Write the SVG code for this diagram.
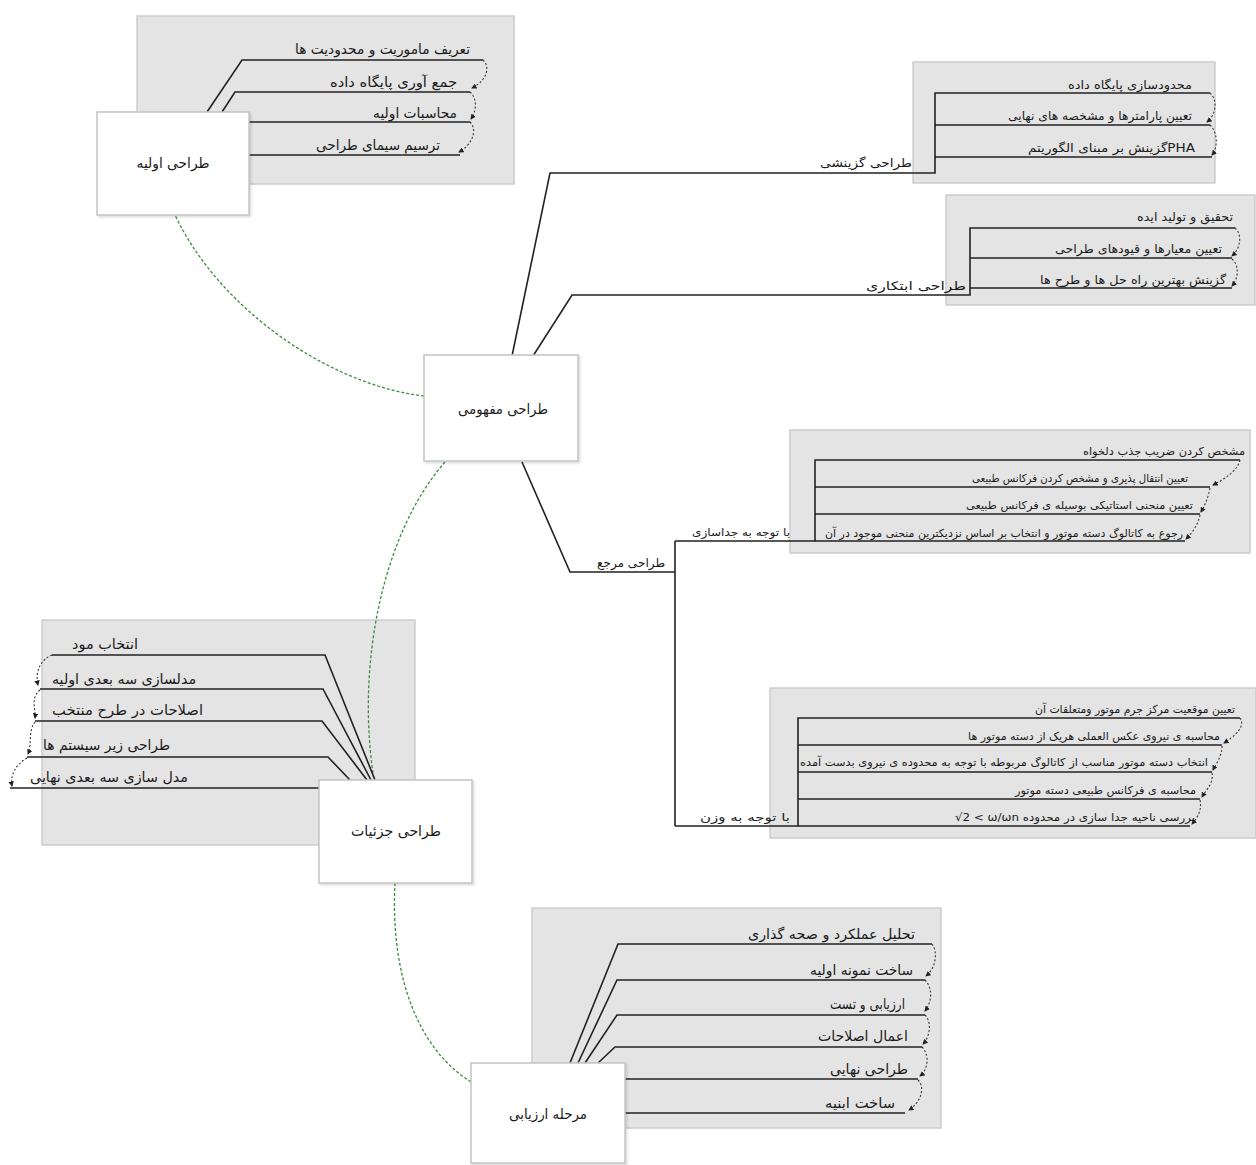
<svg xmlns="http://www.w3.org/2000/svg" width="1256" height="1165" viewBox="0 0 1256 1165">
<defs>
<marker id="ah" viewBox="0 0 6 6" refX="5" refY="3" markerWidth="5" markerHeight="5" orient="auto"><path d="M0,0 L6,3 L0,6 z" fill="#222"/></marker>
<filter id="sh" x="-5%" y="-5%" width="115%" height="115%"><feDropShadow dx="1.5" dy="1.5" stdDeviation="1" flood-color="#000" flood-opacity="0.15"/></filter>
<style>
.bg{fill:#e4e4e4;stroke:#cdcdcd;stroke-width:1.5}
.node{fill:#fff;stroke:#c4c4c4;stroke-width:1.5;filter:url(#sh)}
.ln{fill:none;stroke:#222;stroke-width:1.6}
.dt{fill:none;stroke:#333;stroke-width:1.1;stroke-dasharray:2,2;marker-end:url(#ah)}
.gr{fill:none;stroke:#3c8c3c;stroke-width:1.3;stroke-dasharray:3,2}
text{font-family:"DejaVu Sans","Noto Sans",sans-serif;fill:#1a1a1a}
.t14{font-size:14px;text-anchor:end}
.t12{font-size:12px;text-anchor:end}
.t11{font-size:11px;text-anchor:end}
.nt{font-size:14px;text-anchor:middle}
</style>
</defs>
<rect width="1256" height="1165" fill="#fff"/>

<!-- gray panels -->
<rect class="bg" x="137" y="16" width="377" height="168"/>
<rect class="bg" x="913" y="62" width="302" height="121"/>
<rect class="bg" x="946" y="195" width="309" height="110"/>
<rect class="bg" x="790" y="430" width="460" height="123"/>
<rect class="bg" x="770" y="688" width="486" height="150"/>
<rect class="bg" x="42" y="620" width="373" height="225"/>
<rect class="bg" x="532" y="908" width="409" height="220"/>

<g id="connectors">
<!-- green dashed relations -->
<path class="gr" d="M424,396 C330,385 220,310 175,215"/>
<path class="gr" d="M445,462 C385,530 355,660 374,780"/>
<path class="gr" d="M395,883 C390,980 420,1050 471,1082"/>

<!-- group 1 -->
<path class="ln" d="M207,112 L242,60 L483,60"/>
<path class="ln" d="M222,112 L235,92 L470,92"/>
<path class="ln" d="M249,122 L470,122"/>
<path class="ln" d="M249,155 L460,155"/>
<path class="dt" d="M483,60 C490,66 488,80 472,88"/>
<path class="dt" d="M470,92 C478,99 476,112 471,119"/>
<path class="dt" d="M470,122 C478,130 472,145 459,152"/>

<!-- group 2 -->
<path class="ln" d="M512,356 L550,173 L935,173 L935,93 L1210,93"/>
<path class="ln" d="M935,125 L1210,125"/>
<path class="ln" d="M935,157 L1212,157"/>
<path class="dt" d="M1210,93 C1218,100 1216,115 1207,122"/>
<path class="dt" d="M1210,125 C1218,132 1218,148 1212,155"/>

<!-- group 3 -->
<path class="ln" d="M533,356 L572,295 L970,295 L970,228 L1235,228"/>
<path class="ln" d="M970,258 L1232,258"/>
<path class="ln" d="M970,288 L1232,288"/>
<path class="dt" d="M1235,228 C1243,235 1240,249 1232,256"/>
<path class="dt" d="M1232,259 C1240,266 1238,279 1232,286"/>

<!-- group 4 -->
<path class="ln" d="M522,462 L570,572 L675,572"/>
<path class="ln" d="M675,541 L675,826"/>
<path class="ln" d="M675,541 L815,541 L815,460 L1240,460"/>
<path class="ln" d="M815,487 L1210,487"/>
<path class="ln" d="M815,514 L1200,514"/>
<path class="ln" d="M815,541 L1185,541"/>
<path class="dt" d="M1240,460 C1238,470 1225,479 1213,485"/>
<path class="dt" d="M1210,488 C1208,498 1205,505 1201,512"/>
<path class="dt" d="M1200,515 C1198,525 1192,533 1186,539"/>
<path class="ln" d="M675,826 L798,826 L798,718 L1240,718"/>
<path class="ln" d="M798,745 L1222,745"/>
<path class="ln" d="M798,772 L1212,772"/>
<path class="ln" d="M798,799 L1200,799"/>
<path class="ln" d="M798,826 L1190,826"/>
<path class="dt" d="M1240,718 C1246,726 1235,736 1224,743"/>
<path class="dt" d="M1222,746 C1222,756 1216,764 1213,770"/>
<path class="dt" d="M1212,773 C1214,783 1206,790 1202,797"/>
<path class="dt" d="M1200,800 C1202,810 1198,817 1192,824"/>

<!-- group 5 -->
<path class="ln" d="M52,655 L325,655 L375,780"/>
<path class="ln" d="M40,689 L323,689 L371,780"/>
<path class="ln" d="M35,721 L322,721 L367,780"/>
<path class="ln" d="M27,757 L328,757 L350,780"/>
<path class="ln" d="M10,788 L320,788"/>
<path class="dt" d="M52,655 C40,660 35,672 38,685"/>
<path class="dt" d="M40,690 C30,698 36,710 35,718"/>
<path class="dt" d="M35,722 C28,730 32,745 28,754"/>
<path class="dt" d="M27,758 C15,765 10,776 12,786"/>

<!-- group 6 -->
<path class="ln" d="M570,1063 L618,944 L932,944"/>
<path class="ln" d="M578,1063 L617,980 L925,980"/>
<path class="ln" d="M585,1063 L617,1015 L925,1015"/>
<path class="ln" d="M598,1063 L615,1047 L922,1047"/>
<path class="ln" d="M625,1079 L918,1079"/>
<path class="ln" d="M625,1113 L905,1113"/>
<path class="dt" d="M932,944 C938,952 936,968 926,976"/>
<path class="dt" d="M925,980 C933,988 932,1002 925,1011"/>
<path class="dt" d="M925,1015 C932,1022 930,1037 923,1044"/>
<path class="dt" d="M922,1047 C930,1055 928,1070 920,1076"/>
<path class="dt" d="M918,1080 C926,1088 920,1103 909,1110"/>
</g>

<g id="labels1">
<text class="t14" x="470" y="54" textLength="175" lengthAdjust="spacingAndGlyphs">تعریف ماموریت و محدودیت ها</text>
<text class="t14" x="457" y="87" textLength="127" lengthAdjust="spacingAndGlyphs">جمع آوری پایگاه داده</text>
<text class="t14" x="457" y="118" textLength="84" lengthAdjust="spacingAndGlyphs">محاسبات اولیه</text>
<text class="t14" x="440" y="150" textLength="124" lengthAdjust="spacingAndGlyphs">ترسیم سیمای طراحی</text>
</g>
<g id="labels2">
<text class="t12" x="912" y="167" textLength="92" lengthAdjust="spacingAndGlyphs">طراحی گزینشی</text>
<text class="t12" x="1192" y="89" textLength="124" lengthAdjust="spacingAndGlyphs">محدودسازی پایگاه داده</text>
<text class="t12" x="1192" y="120" textLength="184" lengthAdjust="spacingAndGlyphs">تعیین پارامترها و مشخصه های نهایی</text>
<text class="t12" x="1195" y="152" textLength="167" lengthAdjust="spacingAndGlyphs">گزینش بر مبنای الگوریتمPHA</text>
</g>
<g id="labels3">
<text class="t12" x="966" y="290" textLength="100" lengthAdjust="spacingAndGlyphs">طراحی ابتکاری</text>
<text class="t12" x="1233" y="221" textLength="96" lengthAdjust="spacingAndGlyphs">تحقیق و تولید ایده</text>
<text class="t12" x="1222" y="253" textLength="167" lengthAdjust="spacingAndGlyphs">تعیین معیارها و قیودهای طراحی</text>
<text class="t12" x="1226" y="284" textLength="186" lengthAdjust="spacingAndGlyphs">گزینش بهترین راه حل ها و طرح ها</text>
</g>
<g id="labels4">
<text class="t12" x="665" y="567" textLength="68" lengthAdjust="spacingAndGlyphs">طراحی مرجع</text>
<text class="t11" x="790" y="536" textLength="98" lengthAdjust="spacingAndGlyphs">با توجه به جداسازی</text>
<text class="t11" x="1245" y="455" textLength="162" lengthAdjust="spacingAndGlyphs">مشخص کردن ضریب جذب دلخواه</text>
<text class="t11" x="1188" y="482" textLength="216" lengthAdjust="spacingAndGlyphs">تعیین انتقال پذیری و مشخص کردن فرکانس طبیعی</text>
<text class="t11" x="1193" y="509" textLength="227" lengthAdjust="spacingAndGlyphs">تعیین منحنی استاتیکی بوسیله ی فرکانس طبیعی</text>
<text class="t11" x="1183" y="537" textLength="358" lengthAdjust="spacingAndGlyphs">رجوع به کاتالوگ دسته موتور و انتخاب بر اساس نزدیکترین منحنی موجود در آن</text>
<text class="t11" x="790" y="821" textLength="90" lengthAdjust="spacingAndGlyphs">با توجه به وزن</text>
<text class="t11" x="1235" y="713" textLength="200" lengthAdjust="spacingAndGlyphs">تعیین موقعیت مرکز جرم موتور ومتعلقات آن</text>
<text class="t11" x="1220" y="740" textLength="252" lengthAdjust="spacingAndGlyphs">محاسبه ی نیروی عکس العملی هریک از دسته موتور ها</text>
<text class="t11" x="1208" y="766" textLength="408" lengthAdjust="spacingAndGlyphs">انتخاب دسته موتور مناسب از کاتالوگ مربوطه با توجه به محدوده ی نیروی بدست آمده</text>
<text class="t11" x="1196" y="794" textLength="181" lengthAdjust="spacingAndGlyphs">محاسبه ی فرکانس طبیعی دسته موتور</text>
<text class="t11" x="1195" y="821" textLength="240" lengthAdjust="spacingAndGlyphs">√2 &lt; ω/ωn بررسی ناحیه جدا سازی در محدوده</text>
</g>
<g id="labels5">
<text class="t14" x="138" y="649" textLength="66" lengthAdjust="spacingAndGlyphs">انتخاب مود</text>
<text class="t14" x="196" y="684" textLength="144" lengthAdjust="spacingAndGlyphs">مدلسازی سه بعدی اولیه</text>
<text class="t14" x="203" y="715" textLength="151" lengthAdjust="spacingAndGlyphs">اصلاحات در طرح منتخب</text>
<text class="t14" x="170" y="750" textLength="127" lengthAdjust="spacingAndGlyphs">طراحی زیر سیستم ها</text>
<text class="t14" x="188" y="782" textLength="158" lengthAdjust="spacingAndGlyphs">مدل سازی سه بعدی نهایی</text>
</g>
<g id="labels6">
<text class="t14" x="915" y="939" textLength="167" lengthAdjust="spacingAndGlyphs">تحلیل عملکرد و صحه گذاری</text>
<text class="t14" x="913" y="975" textLength="103" lengthAdjust="spacingAndGlyphs">ساخت نمونه اولیه</text>
<text class="t14" x="905" y="1009" textLength="75" lengthAdjust="spacingAndGlyphs">ارزیابی و تست</text>
<text class="t14" x="908" y="1041" textLength="90" lengthAdjust="spacingAndGlyphs">اعمال اصلاحات</text>
<text class="t14" x="908" y="1074" textLength="78" lengthAdjust="spacingAndGlyphs">طراحی نهایی</text>
<text class="t14" x="895" y="1108" textLength="70" lengthAdjust="spacingAndGlyphs">ساخت ابنیه</text>
</g>

<g id="node-initial">
<rect class="node" x="97" y="112" width="152" height="103"/>
<text class="nt" x="173" y="168" textLength="73" lengthAdjust="spacingAndGlyphs">طراحی اولیه</text>
</g>
<g id="node-concept">
<rect class="node" x="424" y="355" width="154" height="106"/>
<text class="nt" x="503" y="414" textLength="90" lengthAdjust="spacingAndGlyphs">طراحی مفهومی</text>
</g>
<g id="node-detail">
<rect class="node" x="319" y="780" width="153" height="103"/>
<text class="nt" x="396" y="836" textLength="90" lengthAdjust="spacingAndGlyphs">طراحی جزئیات</text>
</g>
<g id="node-eval">
<rect class="node" x="471" y="1063" width="154" height="100"/>
<text class="nt" x="548" y="1119" textLength="78" lengthAdjust="spacingAndGlyphs">مرحله ارزیابی</text>
</g>
</svg>
